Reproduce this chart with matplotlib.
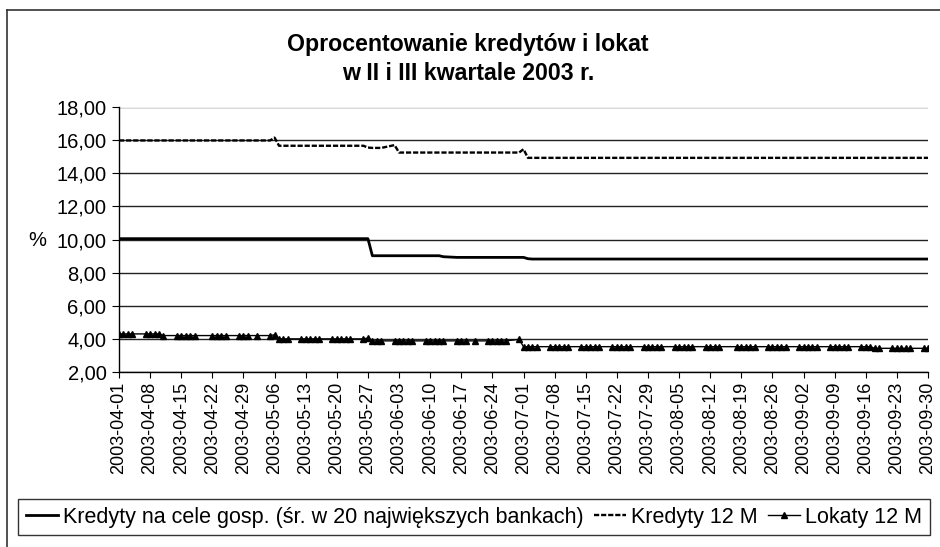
import pandas as pd
import matplotlib
matplotlib.use("Agg")
import matplotlib.pyplot as plt
import matplotlib.dates as mdates
from matplotlib.lines import Line2D

plt.rcParams['font.family'] = ['Liberation Sans', 'DejaVu Sans']

# dni robocze II i III kwartału 2003 (bez świąt)
swieta = ['2003-04-21', '2003-05-01', '2003-06-19', '2003-08-15']
dni = pd.bdate_range('2003-04-01', '2003-09-30')
dni = dni[~dni.isin(pd.to_datetime(swieta))]

# Kredyty na cele gosp. (śr. w 20 największych bankach)
kredyty_gosp = [
    # kwiecień
    10.05, 10.05, 10.05, 10.05,
    10.05, 10.05, 10.05, 10.05, 10.05,
    10.05, 10.05, 10.05, 10.05, 10.05,
    10.05, 10.05, 10.05, 10.05,
    10.05, 10.05, 10.05,
    # maj
    10.05,
    10.05, 10.05, 10.05, 10.05, 10.05,
    10.05, 10.05, 10.05, 10.05, 10.05,
    10.05, 10.05, 10.05, 10.05, 10.05,
    10.05, 10.05, 9.02, 9.02, 9.02,
    # czerwiec
    9.02, 9.02, 9.02, 9.02, 9.02,
    9.02, 9.02, 9.02, 9.02, 8.96,
    8.92, 8.92, 8.92, 8.92,
    8.92, 8.92, 8.92, 8.92, 8.92,
    8.92,
    # lipiec
    8.92, 8.84, 8.82, 8.82,
    8.82, 8.82, 8.82, 8.82, 8.82,
    8.82, 8.82, 8.82, 8.82, 8.82,
    8.82, 8.82, 8.82, 8.82, 8.82,
    8.82, 8.82, 8.82, 8.82,
    # sierpień
    8.82,
    8.82, 8.82, 8.82, 8.82, 8.82,
    8.82, 8.82, 8.82, 8.82,
    8.82, 8.82, 8.82, 8.82, 8.82,
    8.82, 8.82, 8.82, 8.82, 8.82,
    # wrzesień
    8.82, 8.82, 8.82, 8.82, 8.82,
    8.82, 8.82, 8.82, 8.82, 8.82,
    8.82, 8.82, 8.82, 8.82, 8.82,
    8.82, 8.82, 8.82, 8.82, 8.82,
    8.82, 8.82,
]

# Kredyty 12 M
kredyty_12m = [
    # kwiecień
    15.98, 15.98, 15.98, 15.98,
    15.98, 15.98, 15.98, 15.98, 15.98,
    15.98, 15.98, 15.98, 15.98, 15.98,
    15.98, 15.98, 15.98, 15.98,
    15.98, 15.98, 15.98,
    # maj
    15.98,
    15.98, 16.15, 15.66, 15.66, 15.66,
    15.66, 15.66, 15.66, 15.66, 15.66,
    15.66, 15.66, 15.66, 15.66, 15.66,
    15.66, 15.55, 15.53, 15.53, 15.53,
    # czerwiec
    15.70, 15.25, 15.25, 15.25, 15.25,
    15.25, 15.25, 15.25, 15.25, 15.25,
    15.25, 15.25, 15.25, 15.25,
    15.25, 15.25, 15.25, 15.25, 15.25,
    15.25,
    # lipiec
    15.45, 14.93, 14.93, 14.93,
    14.93, 14.93, 14.93, 14.93, 14.93,
    14.93, 14.93, 14.93, 14.93, 14.93,
    14.93, 14.93, 14.93, 14.93, 14.93,
    14.93, 14.93, 14.93, 14.93,
    # sierpień
    14.93,
    14.93, 14.93, 14.93, 14.93, 14.93,
    14.93, 14.93, 14.93, 14.93,
    14.93, 14.93, 14.93, 14.93, 14.93,
    14.93, 14.93, 14.93, 14.93, 14.93,
    # wrzesień
    14.93, 14.93, 14.93, 14.93, 14.93,
    14.93, 14.93, 14.93, 14.93, 14.93,
    14.93, 14.93, 14.93, 14.93, 14.93,
    14.93, 14.93, 14.93, 14.93, 14.93,
    14.93, 14.93,
]

# Lokaty 12 M
lokaty_12m = [
    # kwiecień
    4.30, 4.30, 4.30, 4.30,
    4.30, 4.30, 4.30, 4.30, 4.20,
    4.20, 4.20, 4.20, 4.20, 4.20,
    4.20, 4.20, 4.20, 4.20,
    4.20, 4.20, 4.20,
    # maj
    4.20,
    4.20, 4.25, 4.00, 4.00, 4.00,
    4.00, 4.00, 4.00, 4.00, 4.00,
    4.00, 4.00, 4.00, 4.00, 4.00,
    4.00, 4.05, 3.88, 3.88, 3.88,
    # czerwiec
    3.88, 3.88, 3.88, 3.88, 3.88,
    3.88, 3.88, 3.88, 3.88, 3.88,
    3.88, 3.88, 3.88, 3.88,
    3.88, 3.88, 3.88, 3.88, 3.88,
    3.97,
    # lipiec
    3.53, 3.53, 3.53, 3.53,
    3.53, 3.53, 3.53, 3.53, 3.53,
    3.53, 3.53, 3.53, 3.53, 3.53,
    3.53, 3.53, 3.53, 3.53, 3.53,
    3.53, 3.53, 3.53, 3.53,
    # sierpień
    3.53,
    3.53, 3.53, 3.53, 3.53, 3.53,
    3.53, 3.53, 3.53, 3.53,
    3.53, 3.53, 3.53, 3.53, 3.53,
    3.53, 3.53, 3.53, 3.53, 3.53,
    # wrzesień
    3.53, 3.53, 3.53, 3.53, 3.53,
    3.53, 3.53, 3.53, 3.53, 3.53,
    3.53, 3.53, 3.53, 3.43, 3.43,
    3.43, 3.43, 3.43, 3.43, 3.43,
    3.43, 3.43,
]

etykiety = ['Kredyty na cele gosp. (śr. w 20 największych bankach)',
            'Kredyty 12 M', 'Lokaty 12 M']

fig = plt.figure(figsize=(9.4, 5.47), dpi=100)
W, H = 940, 547
ax = fig.add_axes([119 / W, 1 - 372 / H, (928 - 119) / W, (372 - 107) / H])

ax.plot(dni, kredyty_gosp, color='black', lw=2.0, label=etykiety[0])
ax.plot(dni, kredyty_12m, color='black', lw=1.7, linestyle=(0, (2.2, 0.8)),
        label=etykiety[1])
ax.plot(dni, lokaty_12m, color='black', lw=1.0, marker='^', markersize=4.5,
        label=etykiety[2])

ax.set_ylim(2, 18)
ax.set_yticks(range(2, 19, 2))
ax.yaxis.set_major_formatter(plt.FuncFormatter(lambda v, p: f'{v:.2f}'.replace('.', ',')))
ax.set_xlim(pd.Timestamp('2003-04-01'), pd.Timestamp('2003-09-30'))
ax.set_xticks(pd.date_range('2003-04-01', '2003-09-30', freq='7D'))
ax.xaxis.set_major_formatter(mdates.DateFormatter('%Y-%m-%d'))
ax.tick_params(axis='x', rotation=90, labelsize=13, length=4, direction='out', pad=3)
ax.tick_params(axis='y', labelsize=14.5, length=5, direction='out', pad=4)

ax.grid(axis='y', color='#222222', lw=1.0)
ax.set_axisbelow(True)
for s in ['top', 'right']:
    ax.spines[s].set_visible(False)
ax.spines['left'].set_linewidth(1.0)
ax.spines['bottom'].set_linewidth(1.0)
ax.axhline(18, color='#eeeeee', lw=1.0)

ax.text(28 / W, 1 - 241 / H, '%', transform=fig.transFigure, fontsize=14.5,
        ha='left', va='center')

fig.text(468 / W, 1 - 59 / H, 'Oprocentowanie kredytów i lokat\nw II i III kwartale 2003 r.',
         ha='center', va='center', fontsize=16.7, fontweight='bold', linespacing=1.3)

# ramka obszaru wykresu
fig.add_artist(Line2D([7 / W, 7 / W], [0, 1 - 10 / H], color='#333333', lw=1.2))
fig.add_artist(Line2D([7 / W, 1], [1 - 10 / H, 1 - 10 / H], color='#333333', lw=1.2))

leg = fig.legend(loc='center', bbox_to_anchor=(474 / W, 1 - 517 / H), ncol=3,
                 fontsize=15.5, frameon=True, fancybox=False, edgecolor='black',
                 handlelength=1.5, handletextpad=0.25, columnspacing=0.45,
                 borderpad=0.35, markerscale=0.9)
leg.get_frame().set_linewidth(1.0)

fig.savefig('out.png', dpi=100)
